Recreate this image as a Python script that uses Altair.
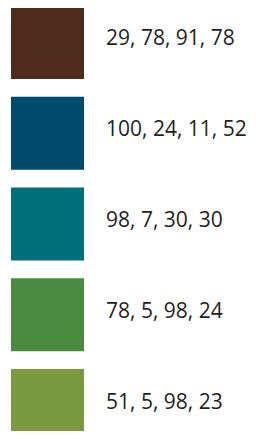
import altair as alt
import pandas as pd

labels = ["29, 78, 91, 78", "100, 24, 11, 52", "98, 7, 30, 30", "78, 5, 98, 24", "51, 5, 98, 23"]
colors = ["#4f2b1d", "#004a6e", "#006f7b", "#4b8b3f", "#7a9a3f"]

df = pd.DataFrame({"label": labels, "color": colors})

def yenc():
    return alt.Y("label:N", sort=None, axis=None,
                 scale=alt.Scale(range=[-10.9, 442.9], paddingInner=0.1956, paddingOuter=0.0978))

base = alt.Chart(df)

squares = base.mark_rect().encode(
    y=yenc(),
    x=alt.value(3),
    x2=alt.value(76),
    color=alt.Color("color:N", scale=None),
)

text = base.mark_text(align="left", baseline="alphabetic", dy=3, fontSize=21,
                      font="Open Sans", color="#231f20").encode(
    y=yenc(),
    x=alt.value(98),
    text="label:N",
)

chart = alt.layer(squares, text).properties(
    width=240, height=423,
    autosize=alt.AutoSizeParams(type="none"),
    padding=0,
).configure_view(stroke=None)

chart.save("out.html", embed_options={"renderer": "svg", "actions": False})
